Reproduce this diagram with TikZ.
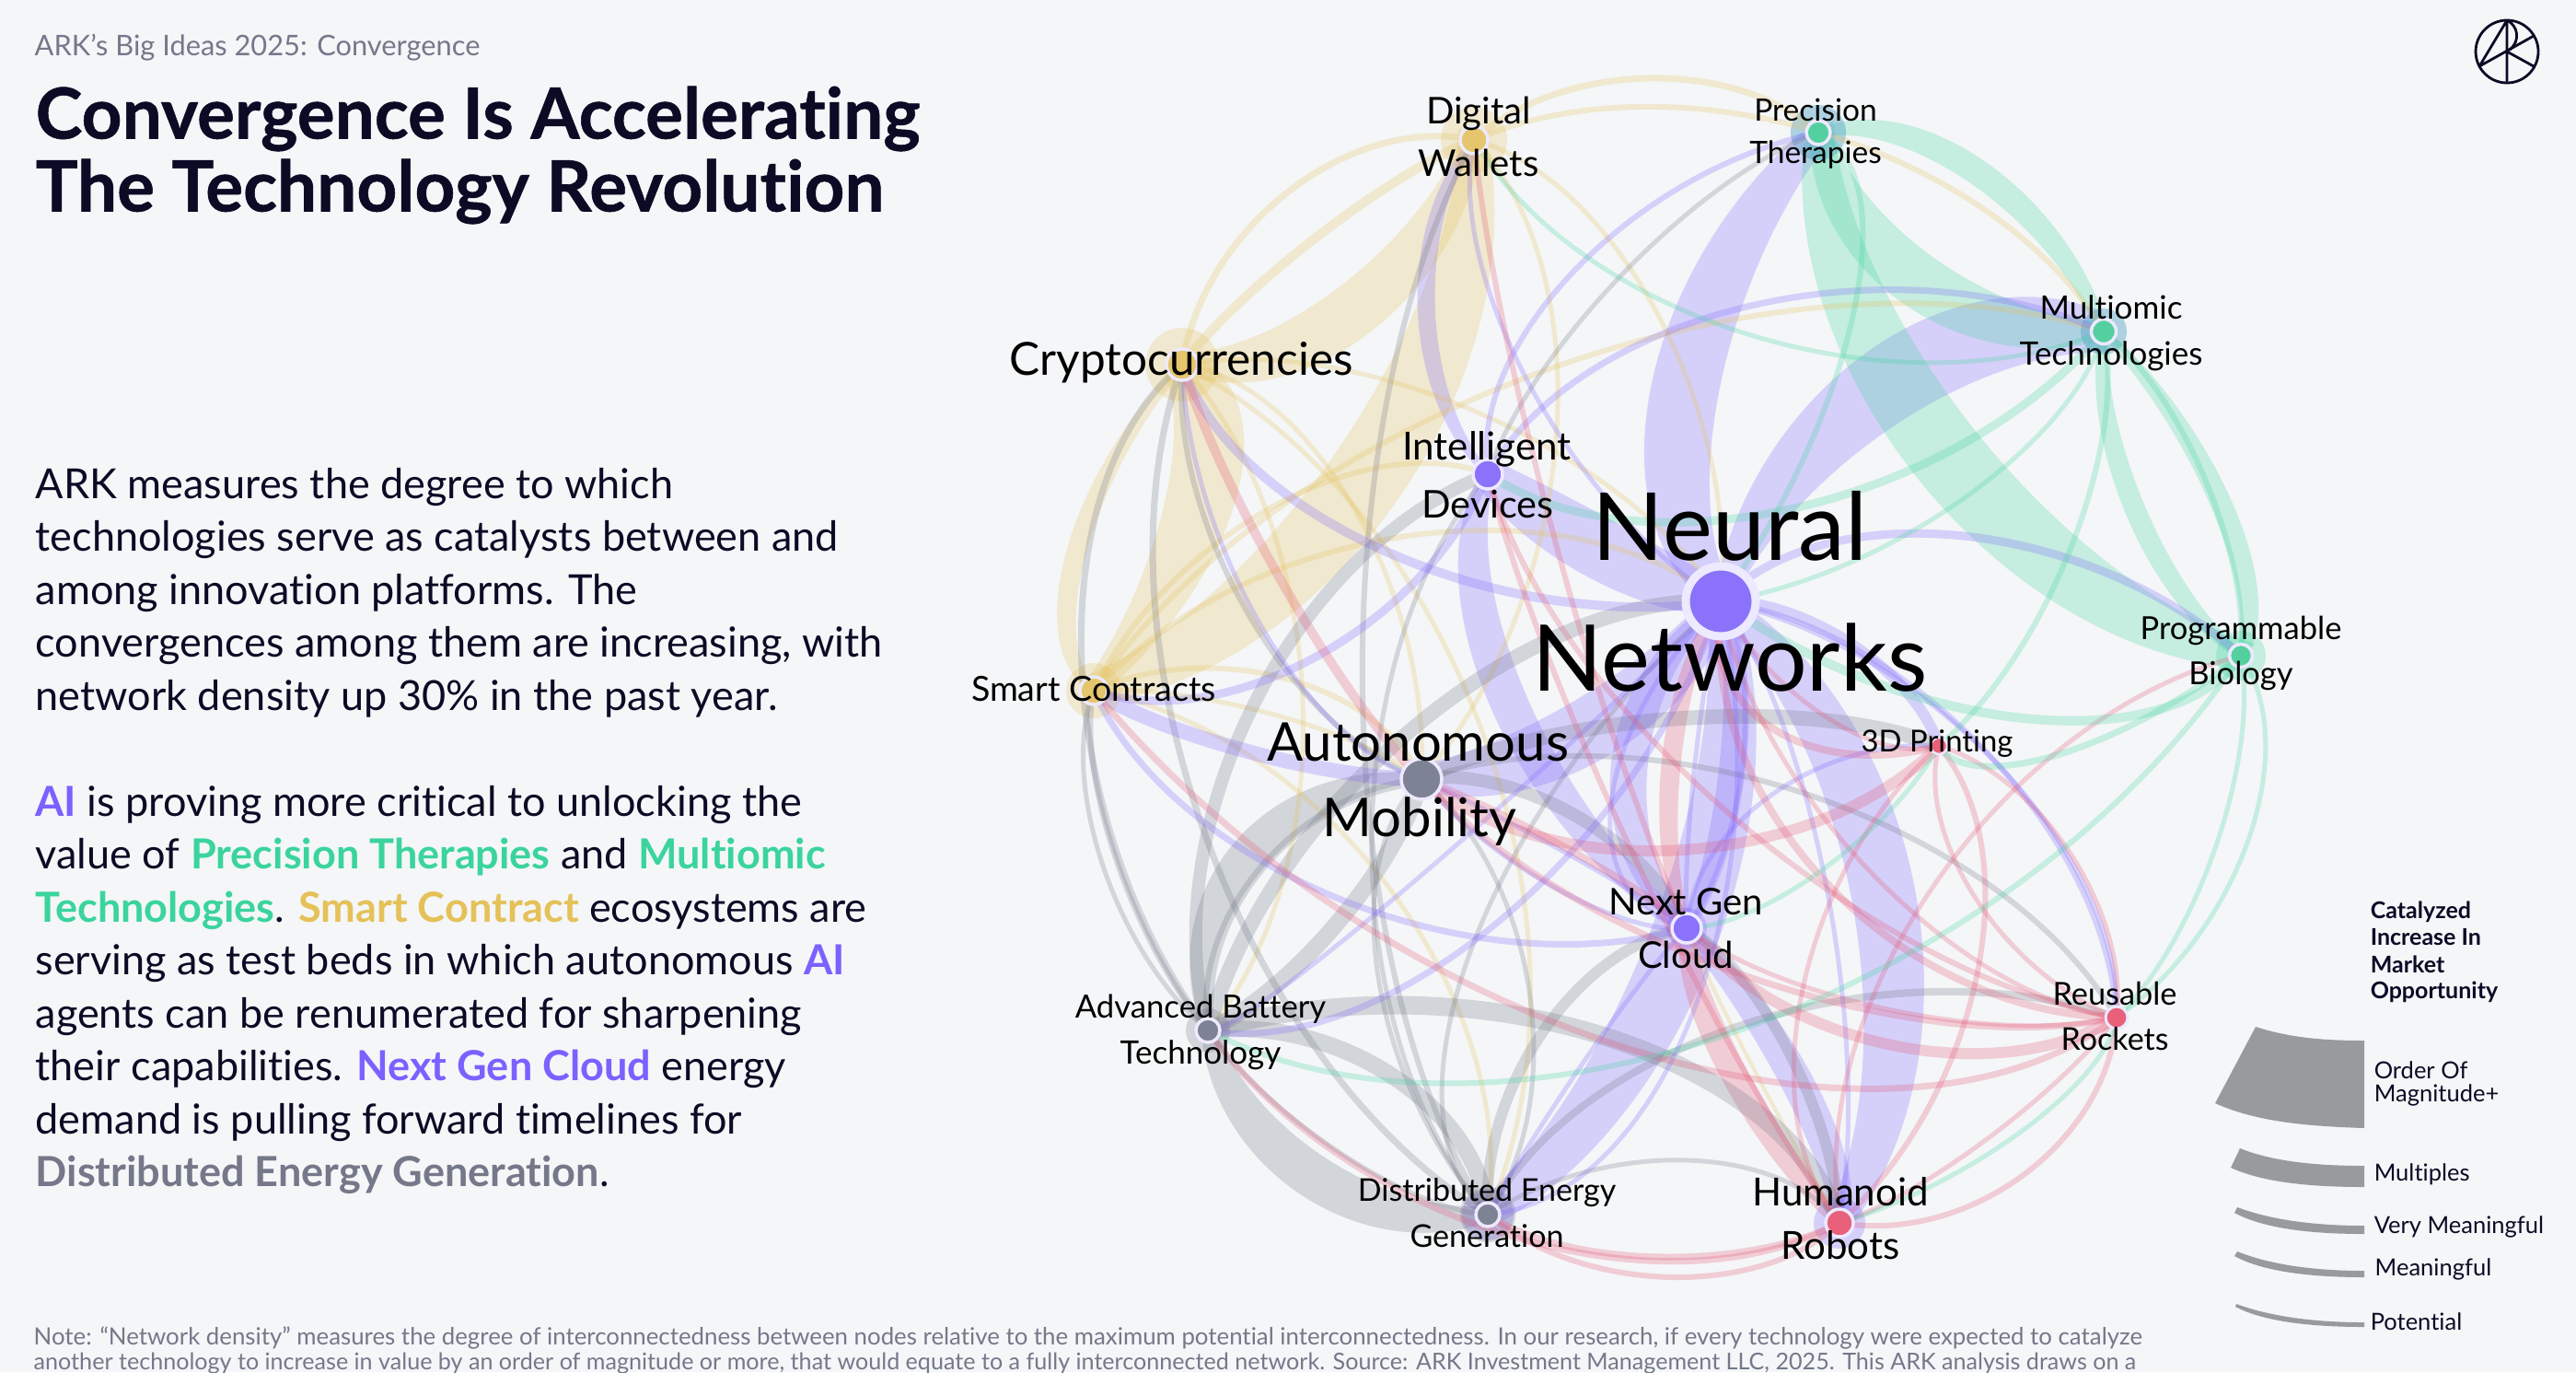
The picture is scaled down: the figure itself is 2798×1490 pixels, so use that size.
\documentclass[tikz,border=0pt]{standalone}
\usepackage{fontspec}
\setmainfont{Lato}[Ligatures=NoCommon]
\newfontfamily\heavyfont{Lato}[Ligatures=NoCommon,BoldFeatures={FakeBold=0.7}]
\usetikzlibrary{calc}
\definecolor{bgc}{HTML}{F4F6F8}
\definecolor{ycol}{HTML}{E5C158}
\definecolor{pcol}{HTML}{7B61FF}
\definecolor{gcol}{HTML}{3AD49C}
\definecolor{rcol}{HTML}{E8506F}
\definecolor{kcol}{HTML}{6E7382}
\definecolor{ink}{HTML}{0B0B25}
\definecolor{subc}{HTML}{747889}
\definecolor{legc}{HTML}{999A9C}
\pgfdeclarelayer{bglayer}
\pgfdeclarelayer{edgelayer}
\pgfsetlayers{bglayer,edgelayer,main}
\newcommand\pxfont[1]{\fontsize{\the\dimexpr #1\dimexpr 0.2845pt\relax\relax}{\the\dimexpr #1\dimexpr 0.37pt\relax\relax}\selectfont}
% control points of a rounded arc from a to b through m
\newcommand\ca[3]{($1.3333*(#3)+0.0833*(#1)-0.4167*(#2)$)}
\newcommand\cb[3]{($1.3333*(#3)-0.4167*(#1)+0.0833*(#2)$)}
\newcommand\edg[5]{\draw[draw=#4,opacity=.25,line width=#5*0.01cm] (#1.center) .. controls \ca{#1}{#2}{#3} and \cb{#1}{#2}{#3} .. (#2.center);}
% ribbon: from, to, halfway points of its two sides, colour; its ends are a quarter of its middle width wide on each side
\newcommand\rib[5]{\fill[fill=#5,opacity=.25]
 ($(#1.center)+0.25*(#3)-0.25*(#4)$)
 .. controls ($1.25*(#3)+0.0833*(#4)+0.0833*(#1)-0.4167*(#2)$) and ($1.25*(#3)+0.0833*(#4)-0.4167*(#1)+0.0833*(#2)$)
 .. ($(#2.center)+0.25*(#3)-0.25*(#4)$)
 -- ($(#2.center)-0.25*(#3)+0.25*(#4)$)
 .. controls ($1.25*(#4)+0.0833*(#3)-0.4167*(#1)+0.0833*(#2)$) and ($1.25*(#4)+0.0833*(#3)+0.0833*(#1)-0.4167*(#2)$)
 .. ($(#1.center)-0.25*(#3)+0.25*(#4)$) -- cycle;}
\newcommand\halo[3]{\fill[fill=#3,opacity=.25] (#1.center) circle[radius=#2];}
\tikzset{
 netdot/.style={circle,inner sep=0pt,minimum size=#1*0.01cm},
 lab/.style={inner sep=0pt,text=black,font=\pxfont{#1}},
 txt/.style={anchor=base west,inner sep=0pt,text=ink,font=\pxfont{#1}},
 legtxt/.style={anchor=west,inner sep=0pt,text=ink,font=\pxfont{25.5}},
 legbold/.style={anchor=west,inner sep=0pt,text=ink,font=\pxfont{25}\bfseries},
 note/.style={anchor=base west,inner sep=0pt,text=subc,font=\pxfont{#1}},
}
\newcommand\hlp[1]{{\bfseries\color{pcol}#1}}
\newcommand\hlg[1]{{\bfseries\color{gcol}#1}}
\newcommand\hly[1]{{\bfseries\color{ycol}#1}}
\newcommand\hlk[1]{{\bfseries\color{subc}#1}}
\begin{document}
\begin{tikzpicture}[x=0.01cm,y=-0.01cm]
\useasboundingbox (0,0) rectangle (2798,1490);
\begin{pgfonlayer}{bglayer}
\fill[bgc] (0,0) rectangle (2798,1490);
\end{pgfonlayer}
% network nodes
\foreach \n/\x/\y/\s/\c/\w in {DW/1601/152/30/E6C66C/3.5,CR/1284/396/34/E6C66C/3.5,ID/1616/515/32/8B72FA/3.5,NN/1869/653/76/8B72FA/9,PT/1975/144/26/54D0A0/3.5,MT/2285/360/27/54D0A0/3.5,PB/2434/712/25/54D0A0/3.5,SC/1188/750/30/E6C66C/3.5,AM/1544/846/44/7E8295/3.5,NG/1832/1008/32/8B72FA/3.5,AB/1312/1119/26/7E8295/3.5,DE/1616/1319/26/7E8295/3.5,P3/2106/810/18/E9607A/2.5,RR/2299/1105/24/E9607A/3,HR/1998/1328/30/E9607A/3.5}{
 \definecolor{dotc}{HTML}{\c}
 \node[netdot=\s,fill=dotc,draw=white!86!pcol,line width=\w*0.01cm] (\n) at (\x,\y) {};
}
\begin{pgfonlayer}{edgelayer}
% ribbons yellow
\rib{SC}{DW}{1520,540}{1452,490}{ycol}
\rib{CR}{DW}{1457,310}{1488,361}{ycol}
\rib{CR}{SC}{1158,600}{1180,600}{ycol}
\rib{CR}{SC}{1343,540}{1260,566}{ycol}
% ribbons grey
\rib{AM}{AB}{1340,916}{1376,943}{kcol}
\rib{AB}{DE}{1414,1298}{1439,1257}{kcol}
% ribbons purple
\rib{NN}{PT}{1794,417}{1869,417}{pcol}
\rib{NN}{MT}{2030,381}{2045,471}{pcol}
\rib{NN}{HR}{2080,965}{2011,975}{pcol}
\rib{NN}{DE}{1863,1031}{1795,1005}{pcol}
\rib{NN}{NG}{1750,830}{1790,830}{pcol}
\rib{NN}{NG}{1897,827}{1868,827}{pcol}
\rib{NN}{AM}{1712,760}{1748,820}{pcol}
\rib{NN}{ID}{1760,570}{1722,625}{pcol}
\rib{ID}{NG}{1620,770}{1660,760}{pcol}
\rib{DW}{ID}{1540,337}{1559,337}{pcol}
\rib{NG}{HR}{1973,1177}{1938,1186}{pcol}
% ribbons red
\rib{NN}{NG}{1805,827}{1826,827}{rcol}
\rib{NG}{HR}{1866,1164}{1892,1151}{rcol}
% ribbons green
\rib{PT}{MT}{2157,176}{2142,200}{gcol}
\rib{PT}{MT}{2105,283}{2068,330}{gcol}
\rib{PT}{PB}{2085,522}{2149,472}{gcol}
\rib{MT}{PB}{2427,551}{2402,551}{gcol}
\rib{MT}{PB}{2310,560}{2330,550}{gcol}
% halos
\halo{DW}{36}{ycol}\halo{CR}{40}{ycol}\halo{SC}{30}{ycol}
\halo{PT}{30}{pcol}\halo{PT}{30}{gcol}\halo{MT}{25}{pcol}\halo{MT}{25}{gcol}
\halo{PB}{27}{gcol}\halo{NG}{22}{pcol}\halo{HR}{28}{pcol}\halo{DE}{28}{pcol}\halo{DE}{30}{kcol}\halo{AB}{24}{kcol}
% yellow edges
\edg{DW}{CR}{1401,207}{ycol}{7}
\edg{DW}{CR}{1432,256}{ycol}{10}
\edg{DW}{PT}{1790,85}{ycol}{7}
\edg{DW}{MT}{1981,145}{ycol}{6}
\edg{SC}{MT}{1685,400}{ycol}{6}
\edg{DW}{NN}{1800,340}{ycol}{5}
\edg{DW}{AM}{1690,480}{ycol}{5}
\edg{CR}{DE}{1612,800}{ycol}{5}
\edg{CR}{NN}{1610,450}{ycol}{5}
\edg{CR}{AM}{1470,550}{ycol}{5}
\edg{SC}{ID}{1383,550}{ycol}{6}
\edg{SC}{NN}{1529,582}{ycol}{6}
\edg{SC}{AM}{1397,737}{ycol}{6}
\edg{SC}{AM}{1380,775}{ycol}{5}
\edg{SC}{DE}{1508,963}{ycol}{5}
\edg{CR}{AB}{1415,760}{ycol}{5}
\edg{NG}{HR}{1902,1155}{ycol}{4}
% grey edges
\edg{AB}{AM}{1452,1003}{kcol}{18}
\edg{AB}{AM}{1370,941}{kcol}{6}
\edg{AB}{DE}{1513,1169}{kcol}{18}
\edg{AB}{DE}{1457,1253}{kcol}{5}
\edg{AB}{HR}{1738,1124}{kcol}{20}
\edg{CR}{AB}{1175,720}{kcol}{7}
\edg{SC}{AB}{1212,932}{kcol}{6}
\edg{SC}{AB}{1198,940}{kcol}{5}
\edg{CR}{DE}{1309,906}{kcol}{7}
\edg{CR}{AM}{1355,665}{kcol}{6}
\edg{DW}{DE}{1480,750}{kcol}{6}
\edg{ID}{DE}{1490,917}{kcol}{5}
\edg{AM}{DE}{1497,1060}{kcol}{5}
\edg{AM}{DE}{1661,1075}{kcol}{5}
\edg{NN}{DE}{1600,1026}{kcol}{5}
\edg{ID}{AB}{1362,765}{kcol}{14}
\edg{NN}{AB}{1536,790}{kcol}{16}
\edg{AM}{P3}{1828,780}{kcol}{16}
\edg{AM}{RR}{1970,865}{kcol}{6}
\edg{AM}{NG}{1710,885}{kcol}{14}
\edg{NG}{DE}{1677,1119}{kcol}{12}
\edg{NG}{HR}{1943,1142}{kcol}{12}
\edg{DE}{RR}{1902,1110}{kcol}{8}
\edg{DE}{HR}{1830,1260}{kcol}{5}
\edg{PT}{ID}{1763,297}{kcol}{5}
% purple edges
\edg{DW}{NN}{1661,417}{pcol}{5}
\edg{CR}{NN}{1508,600}{pcol}{10}
\edg{CR}{AM}{1370,680}{pcol}{5}
\edg{SC}{ID}{1430,713}{pcol}{9}
\edg{SC}{AM}{1355,816}{pcol}{16}
\edg{SC}{NG}{1457,977}{pcol}{7}
\edg{AB}{NN}{1630,999}{pcol}{7}
\edg{AB}{NN}{1508,981}{pcol}{5}
\edg{ID}{PT}{1712,292}{pcol}{6}
\edg{ID}{MT}{1902,332}{pcol}{7}
\edg{NN}{PB}{2132,582}{pcol}{9}
\edg{NN}{RR}{2157,816}{pcol}{6}
\edg{NN}{RR}{2170,830}{pcol}{5}
\edg{NN}{P3}{2012,700}{pcol}{12}
\edg{NG}{P3}{1922,865}{pcol}{5}
\edg{AM}{NG}{1687,963}{pcol}{5}
\edg{AM}{NG}{1713,933}{pcol}{5}
\edg{NN}{HR}{1984,963}{pcol}{5}
\edg{NN}{DE}{1840,1097}{pcol}{5}
\edg{DE}{NG}{1728,1142}{pcol}{5}
\edg{NN}{NG}{1893,827}{pcol}{5}
\edg{NN}{NG}{1840,840}{pcol}{5}
\edg{NN}{NG}{1750,873}{pcol}{5}
% red edges
\edg{AM}{P3}{1828,923}{rcol}{12}
\edg{NN}{P3}{1924,790}{rcol}{8}
\edg{NN}{P3}{1981,777}{rcol}{5}
\edg{NG}{RR}{2055,1135}{rcol}{12}
\edg{NG}{RR}{2055,1097}{rcol}{5}
\edg{NN}{RR}{1985,960}{rcol}{8}
\edg{NN}{RR}{2030,945}{rcol}{5}
\edg{ID}{RR}{1880,885}{rcol}{6}
\edg{CR}{AM}{1397,640}{rcol}{10}
\edg{AM}{RR}{1900,1061}{rcol}{7}
\edg{AM}{NG}{1712,927}{rcol}{8}
\edg{SC}{RR}{1763,1137}{rcol}{7}
\edg{AB}{HR}{1640,1342}{rcol}{7}
\edg{DE}{HR}{1800,1365}{rcol}{7}
\edg{DE}{HR}{1814,1387}{rcol}{6}
\edg{HR}{RR}{2198,1276}{rcol}{6}
\edg{HR}{RR}{2157,1238}{rcol}{5}
\edg{HR}{P3}{2147,1061}{rcol}{6}
\edg{HR}{P3}{1958,1075}{rcol}{5}
\edg{P3}{RR}{2249,927}{rcol}{5}
\edg{P3}{RR}{2147,977}{rcol}{5}
\edg{PB}{HR}{2106,954}{rcol}{5}
\edg{DW}{NG}{1690,590}{rcol}{6}
\edg{ID}{HR}{1775,930}{rcol}{6}
% green edges
\edg{MT}{PB}{2395,520}{gcol}{6}
\edg{PT}{NN}{2014,337}{gcol}{6}
\edg{DW}{MT}{1902,364}{gcol}{5}
\edg{MT}{ID}{1953,551}{gcol}{9}
\edg{MT}{NN}{2132,542}{gcol}{5}
\edg{MT}{P3}{2249,596}{gcol}{6}
\edg{NN}{PB}{2198,780}{gcol}{10}
\edg{PB}{P3}{2234,820}{gcol}{7}
\edg{PB}{AB}{1900,1115}{gcol}{6}
\edg{NG}{P3}{1979,945}{gcol}{5}
\edg{PB}{RR}{2407,919}{gcol}{5}
\edg{PB}{RR}{2443,910}{gcol}{5}
\edg{RR}{HR}{2198,1227}{gcol}{5}
\end{pgfonlayer}
% labels
\node[lab=102] (lNN1) at (1879,571) {Neural};
\node[lab=100] (lNN2) at (1879,714) {Networks};
\node[lab=58] (lAM1) at (1540,806) {Autonomous};
\node[lab=58] (lAM2) at (1542,892) {Mobility};
\node[lab=40] (lNG1) at (1831,979) {Next Gen};
\node[lab=40] (lNG2) at (1831,1037) {Cloud};
\node[lab=49.5] (lCR) at (1283,394) {Cryptocurrencies};
\node[lab=40] (lDW1) at (1606,123) {Digital};
\node[lab=40] (lDW2) at (1606,177) {Wallets};
\node[lab=42] (lID1) at (1615,488) {Intelligent};
\node[lab=41.5] (lID2) at (1616,548) {Devices};
\node[lab=33.5] (lPT1) at (1972,119) {Precision};
\node[lab=33.5] (lPT2) at (1972,168) {Therapies};
\node[lab=35] (lMT1) at (2293,334) {Multiomic};
\node[lab=35] (lMT2) at (2293,387) {Technologies};
\node[lab=34.5] (lPB1) at (2434,685) {Programmable};
\node[lab=34.5] (lPB2) at (2434,734) {Biology};
\node[lab=37.5] (lSC) at (1188,748) {Smart Contracts};
\node[lab=32.8] (lP3) at (2104,808) {3D Printing};
\node[lab=34.7] (lAB1) at (1304,1096) {Advanced Battery};
\node[lab=35] (lAB2) at (1304,1146) {Technology};
\node[lab=34] (lDE1) at (1615,1295) {Distributed Energy};
\node[lab=34] (lDE2) at (1615,1342) {Generation};
\node[lab=42] (lHR1) at (1999,1294) {Humanoid};
\node[lab=42] (lHR2) at (1999,1352) {Robots};
\node[lab=34.3] (lRR1) at (2297,1079) {Reusable};
\node[lab=34] (lRR2) at (2297,1128) {Rockets};
% header
\node[txt=30.8,text=subc] (kicker) at (37,60) {ARK’s Big Ideas 2025: Convergence};
\node[txt=76.5] (t1) at (38,150.5) {\heavyfont\bfseries Convergence Is Accelerating};
\node[txt=76.5] (t2) at (38,229.5) {\heavyfont\bfseries The Technology Revolution};
% body
\node[txt=45] (b1) at (38,541.5) {ARK measures the degree to which};
\node[txt=45] (b2) at (38,598.5) {technologies serve as catalysts between and};
\node[txt=45] (b3) at (38,656.5) {among innovation platforms. The};
\node[txt=45] (b4) at (38,713.5) {convergences among them are increasing, with};
\node[txt=45] (b5) at (38,771.5) {network density up 30\% in the past year.};
\node[txt=45] (c1) at (38,886.5) {\hlp{AI} is proving more critical to unlocking the};
\node[txt=45] (c2) at (38,943.5) {value of \hlg{Precision Therapies} and \hlg{Multiomic}};
\node[txt=45] (c3) at (38,1001.5) {\hlg{Technologies}. \hly{Smart Contract} ecosystems are};
\node[txt=45] (c4) at (38,1058.5) {serving as test beds in which autonomous \hlp{AI}};
\node[txt=45] (c5) at (38,1116.5) {agents can be renumerated for sharpening};
\node[txt=45] (c6) at (38,1173.5) {their capabilities. \hlp{Next Gen Cloud} energy};
\node[txt=45] (c7) at (38,1231.5) {demand is pulling forward timelines for};
\node[txt=45] (c8) at (38,1288.5) {\hlk{Distributed Energy Generation}.};
% footnote
\node[note=25.8] (n1) at (36,1460) {Note: “Network density” measures the degree of interconnectedness between nodes relative to the maximum potential interconnectedness. In our research, if every technology were expected to catalyze};
\node[note=25.1] (n2) at (36,1487) {another technology to increase in value by an order of magnitude or more, that would equate to a fully interconnected network. Source: ARK Investment Management LLC, 2025. This ARK analysis draws on a};
% legend
\node[legbold] (g1) at (2574,990) {Catalyzed};
\node[legbold] (g2) at (2574,1018) {Increase In};
\node[legbold] (g3) at (2574,1047) {Market};
\node[legbold] (g4) at (2574,1077) {Opportunity};
\fill[legc] (2450,1115) .. controls (2490,1128) and (2530,1130) .. (2568,1130) -- (2568,1225) .. controls (2505,1223) and (2450,1218) .. (2406,1198) -- cycle;
\fill[legc] (2433,1247) .. controls (2470,1262) and (2520,1266) .. (2568,1266) -- (2568,1289) .. controls (2515,1289) and (2460,1285) .. (2423,1268) -- cycle;
\fill[legc] (2430,1311) .. controls (2470,1326) and (2520,1331) .. (2568,1331) -- (2568,1340) .. controls (2515,1340) and (2460,1335) .. (2427,1317) -- cycle;
\fill[legc] (2430,1359) .. controls (2470,1375) and (2520,1380) .. (2568,1380) -- (2568,1387) .. controls (2515,1387) and (2460,1382) .. (2427,1364) -- cycle;
\fill[legc] (2429,1416) .. controls (2470,1431) and (2520,1436) .. (2568,1436) -- (2568,1441) .. controls (2515,1441) and (2460,1436) .. (2428,1419) -- cycle;
\node[legtxt] (h1) at (2578,1162) {Order Of};
\node[legtxt] (h2) at (2578,1189) {Magnitude+};
\node[legtxt] (h3) at (2578,1275) {Multiples};
\node[legtxt] (h4) at (2578,1332) {Very Meaningful};
\node[legtxt] (h5) at (2579,1378) {Meaningful};
\node[legtxt] (h6) at (2574,1435) {Potential};
% logo
\draw[ink,line width=0.028cm] (2723,56) circle[radius=34];
\draw[ink,line width=0.028cm,line join=round] (2723,22) -- (2723,90) (2723,22) -- (2693,72) -- (2752,39) (2723,56) -- (2752,72);
\draw[ink,line width=0.028cm] (2723,22) .. controls (2735,28) and (2738,44) .. (2726,54);
\end{tikzpicture}
\end{document}
